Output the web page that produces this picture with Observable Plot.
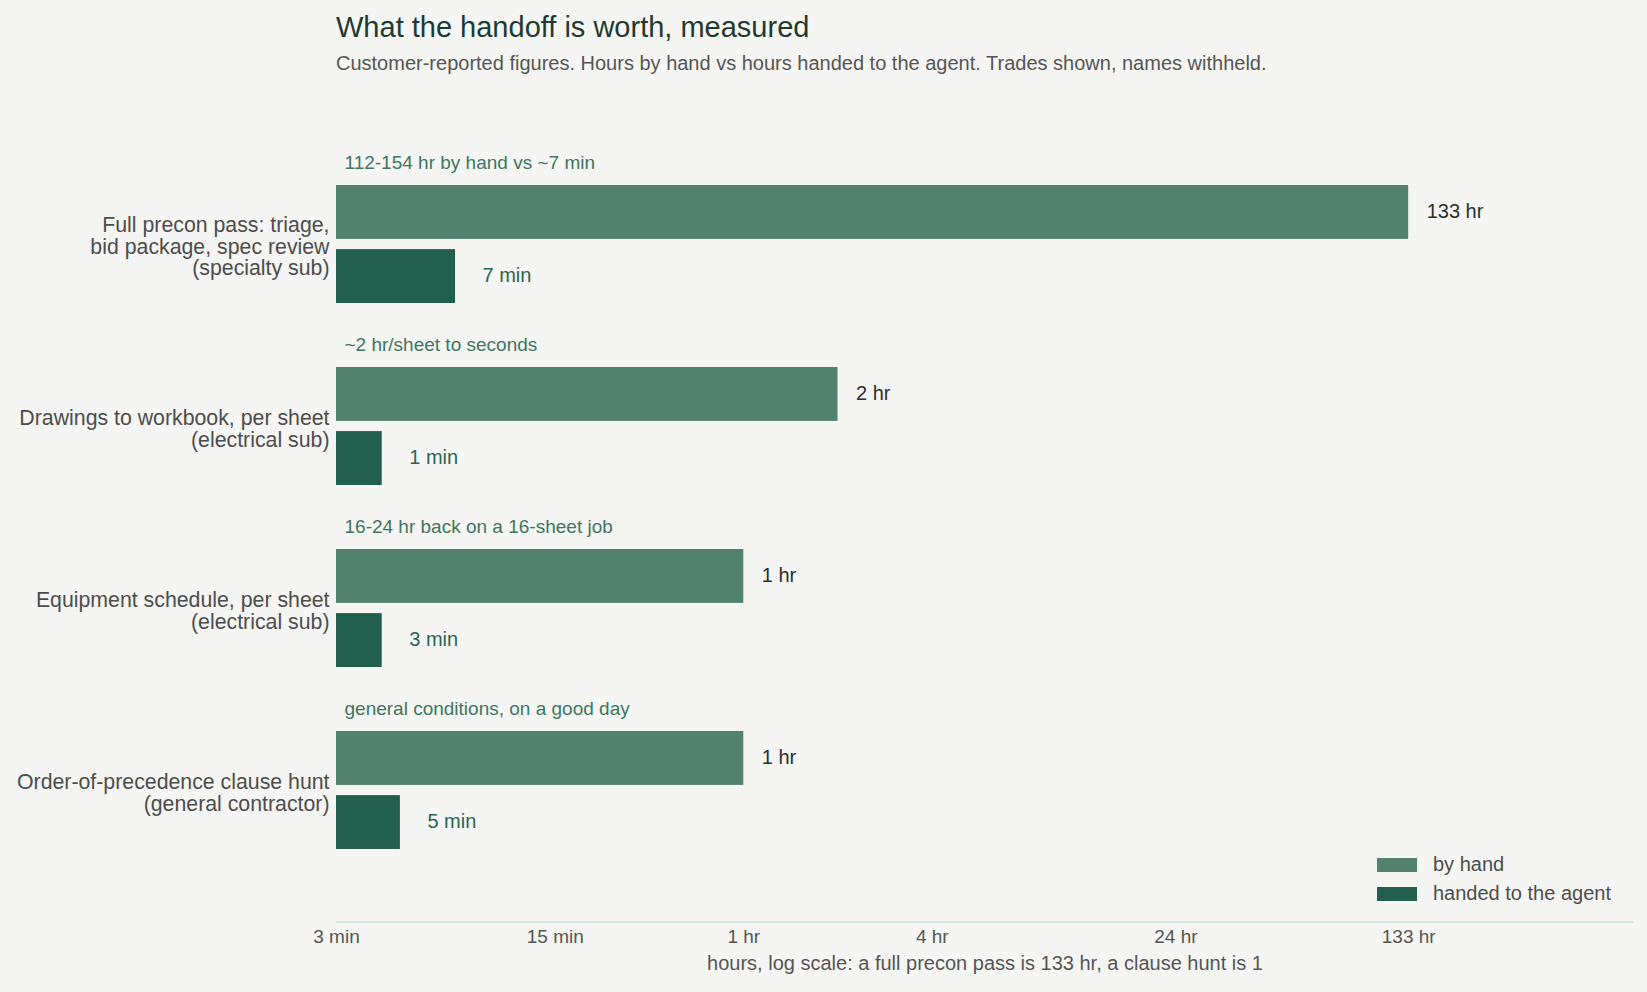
<!DOCTYPE html>
<html>
<head>
<meta charset="utf-8">
<script src="https://cdn.jsdelivr.net/npm/d3@7"></script>
<script src="https://cdn.jsdelivr.net/npm/@observablehq/plot@0.6"></script>
<style>
  html, body { margin: 0; padding: 0; background: #f5f5f3; }
  body { width: 1647px; height: 992px; position: relative; overflow: hidden; font-family: "Liberation Sans", Arial, sans-serif; }
  #title { position: absolute; left: 336px; top: 10px; font-size: 29px; line-height: 34px; color: #1f3a30; white-space: nowrap; }
  #subtitle { position: absolute; left: 336px; top: 51px; font-size: 20px; line-height: 24px; color: #555; white-space: nowrap; }
  #chart { position: absolute; left: 0; top: 89px; }
  #legend { position: absolute; left: 1377px; top: 850px; font-size: 20px; color: #4d4d4d; }
  #legend .row { display: flex; align-items: center; height: 29px; }
  #legend .sw { width: 40px; height: 14px; margin-right: 16px; }
</style>
</head>
<body>
<div id="title">What the handoff is worth, measured</div>
<div id="subtitle">Customer-reported figures. Hours by hand vs hours handed to the agent. Trades shown, names withheld.</div>
<div id="chart"></div>
<div id="legend"></div>
<script>
// ---- data ----
const categories = ["Full precon pass", "Drawings to workbook", "Equipment schedule", "Order-of-precedence clause hunt"];
const categoryLabels = [
  "Full precon pass: triage,\nbid package, spec review\n(specialty sub)",
  "Drawings to workbook, per sheet\n(electrical sub)",
  "Equipment schedule, per sheet\n(electrical sub)",
  "Order-of-precedence clause hunt\n(general contractor)"
];
const notes = [
  "112-154 hr by hand vs ~7 min",
  "~2 hr/sheet to seconds",
  "16-24 hr back on a 16-sheet job",
  "general conditions, on a good day"
];
const byHandHours = [133, 2, 1, 1];
const byHandLabels = ["133 hr", "2 hr", "1 hr", "1 hr"];
const agentHours = [0.12, 0.0167, 0.05, 0.08];
const agentLabels = ["7 min", "1 min", "3 min", "5 min"];
const minBarHours = 0.07; // shortest drawn bar
const tickValues = [0.05, 0.25, 1, 4, 24, 133];
const tickLabels = ["3 min", "15 min", "1 hr", "4 hr", "24 hr", "133 hr"];
const xDomain = [0.05, 695];
const axisTitle = "hours, log scale: a full precon pass is 133 hr, a clause hunt is 1";
const seriesNames = ["by hand", "handed to the agent"];
const seriesColors = ["#52826f", "#22604d"];

// ---- tables ----
const handRows = categories.map((c, i) => ({cat: c, v: Math.max(byHandHours[i], minBarHours), label: byHandLabels[i]}));
const agentRows = categories.map((c, i) => ({cat: c, v: Math.max(agentHours[i], minBarHours), label: agentLabels[i]}));
const catRows = categories.map((c, i) => ({cat: c, label: categoryLabels[i], note: notes[i]}));
const tickRows = tickValues.map((v, i) => ({v, label: tickLabels[i]}));

const W = 1647, H = 903;
const mL = 336, mR = 14, mT = 24, mB = 70;

function axisLine(index, scales, values, dims) {
  const y = dims.height - dims.marginBottom;
  return d3.create("svg:line")
    .attr("x1", dims.marginLeft).attr("x2", dims.width - dims.marginRight)
    .attr("y1", y).attr("y2", y)
    .attr("stroke", "#d4e7df").attr("stroke-width", 2).node();
}

const chart = Plot.plot({
  width: W, height: H,
  marginLeft: mL, marginRight: mR, marginTop: mT, marginBottom: mB,
  style: {background: "transparent", fontFamily: "Liberation Sans, Arial, sans-serif"},
  x: {type: "log", domain: xDomain, axis: null},
  y: {domain: categories, paddingInner: 0.349, paddingOuter: 0.39, axis: null},
  marks: [
    axisLine,
    Plot.text(tickRows, {x: "v", text: "label", frameAnchor: "bottom", dy: 14, lineAnchor: "middle", fontSize: 19, fill: "#555"}),
    Plot.text([axisTitle], {frameAnchor: "bottom", dy: 41, fontSize: 20, fill: "#555", lineAnchor: "middle"}),
    Plot.barX(handRows, {y: "cat", x1: () => xDomain[0], x2: "v", fill: seriesColors[0], insetBottom: 64.1}),
    Plot.barX(agentRows, {y: "cat", x1: () => xDomain[0], x2: "v", fill: seriesColors[1], insetTop: 64.1}),
    Plot.text(handRows, {y: "cat", x: "v", text: "label", dx: 18, dy: -33, textAnchor: "start", fontSize: 20, fill: "#2b2e2d"}),
    Plot.text(agentRows, {y: "cat", x: "v", text: "label", dx: 27, dy: 31, textAnchor: "start", fontSize: 20, fill: "#2a6652"}),
    Plot.text(catRows, {y: "cat", text: "note", frameAnchor: "left", dx: 8, dy: -82, textAnchor: "start", fontSize: 19, fill: "#3f7561"}),
    Plot.text(catRows, {y: "cat", text: "label", frameAnchor: "left", dx: -7, dy: 2, textAnchor: "end", fontSize: 21.3, lineHeight: 1.03, fill: "#4d4d4d"})
  ]
});
document.getElementById("chart").appendChild(chart);

const legend = document.getElementById("legend");
seriesNames.forEach((n, i) => {
  const row = document.createElement("div");
  row.className = "row";
  const sw = document.createElement("div");
  sw.className = "sw";
  sw.style.background = seriesColors[i];
  const t = document.createElement("span");
  t.textContent = n;
  row.appendChild(sw); row.appendChild(t);
  legend.appendChild(row);
});
</script>
</body>
</html>
